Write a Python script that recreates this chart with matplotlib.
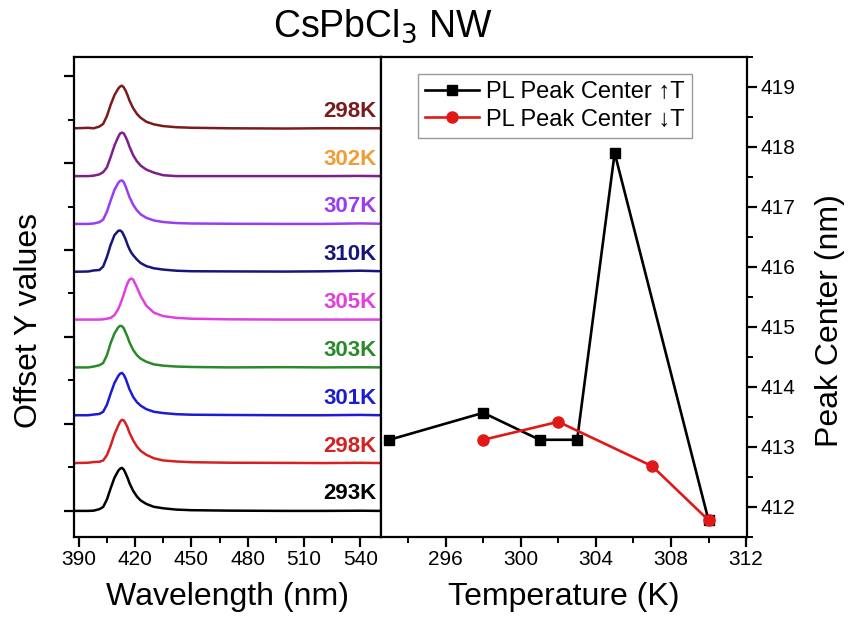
import numpy as np
import matplotlib
matplotlib.use('Agg')
import matplotlib.pyplot as plt
from matplotlib.ticker import MultipleLocator

plt.rcParams.update({
    'font.family': ['Liberation Sans', 'DejaVu Sans'],
    'axes.linewidth': 1.6,
    'xtick.major.width': 1.6,
    'ytick.major.width': 1.6,
    'xtick.minor.width': 1.4,
    'ytick.minor.width': 1.4,
    'xtick.major.size': 7,
    'ytick.major.size': 7,
    'xtick.minor.size': 4,
    'ytick.minor.size': 4,
    'xtick.major.pad': 2.5,
    'ytick.major.pad': 2.5,
    'xtick.labelsize': 15,
    'ytick.labelsize': 15,
})

# ---- left panel: PL spectra (offset) ----
wavelength = [388, 395, 398, 401, 403, 405, 407, 409, 411, 412, 413, 414, 415, 416,
              417, 418, 419, 421, 423, 426, 430, 435, 442, 450, 470, 500, 520, 540, 551]

spec_293 = [0, 0, 0.003, 0.02, 0.045, 0.13, 0.26, 0.38, 0.46, 0.485, 0.495, 0.475, 0.43, 0.38,
            0.32, 0.275, 0.23, 0.165, 0.12, 0.08, 0.047, 0.03, 0.015, 0.008, 0.003, 0, 0, 0.002, 0]
spec_298a = [0, 0.004, 0.012, 0.015, 0.03, 0.09, 0.2, 0.33, 0.43, 0.475, 0.498, 0.49, 0.455, 0.41,
             0.35, 0.305, 0.26, 0.19, 0.14, 0.095, 0.055, 0.03, 0.018, 0.01, 0.004, 0.002, 0, 0.003, 0]
spec_301 = [0, 0, 0.008, 0.015, 0.04, 0.12, 0.25, 0.37, 0.45, 0.478, 0.487, 0.465, 0.42, 0.36,
            0.3, 0.255, 0.21, 0.15, 0.11, 0.07, 0.04, 0.025, 0.012, 0.006, 0.003, 0, 0, 0.004, 0]
spec_303 = [0, 0, 0.01, 0.025, 0.05, 0.14, 0.28, 0.39, 0.46, 0.478, 0.475, 0.45, 0.4, 0.35,
            0.29, 0.245, 0.2, 0.14, 0.1, 0.065, 0.035, 0.02, 0.01, 0.005, 0, 0.003, 0, 0.002, 0]
spec_305 = [0, 0, 0, 0, 0.003, 0.01, 0.02, 0.05, 0.12, 0.17, 0.23, 0.29, 0.36, 0.42,
            0.46, 0.472, 0.46, 0.37, 0.27, 0.16, 0.08, 0.04, 0.02, 0.01, 0.003, 0, 0, 0, 0]
spec_310 = [0, 0.003, 0.015, 0.02, 0.06, 0.17, 0.31, 0.42, 0.47, 0.475, 0.46, 0.42, 0.37, 0.31,
            0.26, 0.22, 0.19, 0.14, 0.1, 0.065, 0.04, 0.025, 0.012, 0.006, 0.004, 0.002, 0.005, 0.012, 0.006]
spec_307 = [0, 0, 0.005, 0.02, 0.05, 0.14, 0.27, 0.39, 0.47, 0.495, 0.5, 0.48, 0.43, 0.37,
            0.31, 0.265, 0.22, 0.155, 0.11, 0.07, 0.04, 0.022, 0.01, 0.005, 0.002, 0, 0, 0.006, 0.002]
spec_302 = [0, 0, 0.005, 0.02, 0.045, 0.1, 0.22, 0.35, 0.45, 0.49, 0.5, 0.49, 0.45, 0.4,
            0.34, 0.29, 0.24, 0.17, 0.12, 0.075, 0.04, 0.01, 0, 0, 0, 0, 0, 0.002, 0]
spec_298b = [0, 0.005, 0, 0.02, 0.05, 0.14, 0.27, 0.38, 0.455, 0.48, 0.49, 0.47, 0.43, 0.38,
             0.32, 0.275, 0.23, 0.165, 0.12, 0.075, 0.045, 0.025, 0.012, 0.006, 0, -0.003, 0, 0, 0]

spectra = [spec_293, spec_298a, spec_301, spec_303, spec_305, spec_310, spec_307, spec_302, spec_298b]
spec_labels = ['293K', '298K', '301K', '303K', '305K', '310K', '307K', '302K', '298K']
line_colors = ['#000000', '#D42222', '#1C1CD2', '#2A8A2A', '#E040E0', '#16167A', '#9A3CF0', '#7E1F8C', '#7A1C1C']
text_colors = ['#000000', '#D42222', '#1C1CD2', '#2A8A2A', '#E040E0', '#16167A', '#9A3CF0', '#EE9E35', '#7A1C1C']
offset_step = 0.55

# ---- right panel: peak centre vs temperature ----
temp_up = [293, 298, 301, 303, 305, 310]
peak_up = [413.12, 413.57, 413.12, 413.12, 417.9, 411.78]
temp_down = [298, 302, 307, 310]
peak_down = [413.12, 413.42, 412.68, 411.78]

fig = plt.figure(figsize=(8.54, 6.26), dpi=100)
ax1 = fig.add_axes([0.0867, 0.1422, 0.3595, 0.7668])
ax2 = fig.add_axes([0.4461, 0.1422, 0.4286, 0.7668])

for i, (s, lab) in enumerate(zip(spectra, spec_labels)):
    base = i * offset_step
    ax1.plot(wavelength, np.array(s) + base, color=line_colors[i], lw=1.8)
    ax1.text(0.985, base + 0.075, lab, transform=ax1.get_yaxis_transform(),
             ha='right', va='bottom', fontsize=16, fontweight='bold', color=text_colors[i])

ax1.set_xlim(387.5, 551)
ax1.set_ylim(-0.3, 5.22)
ax1.xaxis.set_major_locator(MultipleLocator(30))
ax1.xaxis.set_minor_locator(MultipleLocator(15))
ax1.yaxis.set_major_locator(MultipleLocator(1))
ax1.yaxis.set_minor_locator(MultipleLocator(0.5))
ax1.tick_params(which='both', direction='out', top=False, right=False)
ax1.set_yticklabels([])
ax1.set_xlabel('Wavelength (nm)', fontsize=23, labelpad=9)
ax1.set_ylabel('Offset Y values', fontsize=23)
ax1.yaxis.set_label_coords(-0.098, 0.45)

ax2.plot(temp_up, peak_up, color='black', lw=1.9, marker='s', markersize=7, label='PL Peak Center \u2191T')
ax2.plot(temp_down, peak_down, color='#E01818', lw=1.9, marker='o', markersize=8, label='PL Peak Center \u2193T')
ax2.set_xlim(292.55, 312.05)
ax2.set_ylim(411.5, 419.5)
ax2.xaxis.set_minor_locator(MultipleLocator(2))
ax2.yaxis.set_major_locator(MultipleLocator(1))
ax2.yaxis.set_minor_locator(MultipleLocator(0.5))
ax2.set_xticks([296, 300, 304, 308, 312])
ax2.tick_params(which='both', direction='out', top=False, left=False, right=True,
                labelleft=False, labelright=True)
ax2.yaxis.set_label_position('right')
ax2.set_xlabel('Temperature (K)', fontsize=23, labelpad=9)
ax2.set_ylabel('Peak Center (nm)', fontsize=23, rotation=90)
ax2.yaxis.set_label_coords(1.186, 0.45)

leg = ax2.legend(loc='upper left', bbox_to_anchor=(0.1, 0.965), borderaxespad=0,
                 fancybox=False, edgecolor='#999999', framealpha=1,
                 prop={'family': ['Liberation Sans', 'DejaVu Sans'], 'size': 17},
                 handlelength=2.3, handletextpad=0.3, borderpad=0.3, labelspacing=0.25)
leg.get_frame().set_linewidth(1.0)

fig.text(0.4485, 0.958, 'CsPbCl$_3$ NW', ha='center', va='center', fontsize=27)

fig.savefig('out.png', dpi=100)
